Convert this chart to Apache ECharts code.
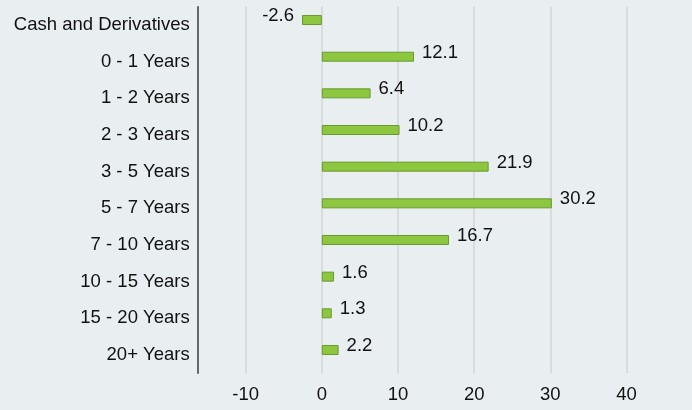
<!DOCTYPE html>
<html>
<head>
<meta charset="utf-8">
<script src="https://cdn.jsdelivr.net/npm/echarts@6/dist/echarts.min.js"></script>
<style>
html,body{margin:0;padding:0;background:#e9eef1;}
#chart{width:692px;height:410px;}
</style>
</head>
<body>
<div id="chart"></div>
<script>
const categories = ['Cash and Derivatives','0 - 1 Years','1 - 2 Years','2 - 3 Years','3 - 5 Years','5 - 7 Years','7 - 10 Years','10 - 15 Years','15 - 20 Years','20+ Years'];
const values = [-2.6, 12.1, 6.4, 10.2, 21.9, 30.2, 16.7, 1.6, 1.3, 2.2];
const tickMin = -20, tickMax = 48.6, tickStep = 10;

const FONT = 'Liberation Sans, Arial, sans-serif';
const chart = echarts.init(document.getElementById('chart'));
const barData = values.map(v => ({
  value: v,
  label: { position: v < 0 ? 'left' : 'right' }
}));
chart.setOption({
  backgroundColor: '#e9eef1',
  animation: false,
  grid: { left: 169.5, right: 0, top: 6.7, bottom: 36.7, containLabel: false },
  xAxis: {
    type: 'value',
    min: tickMin, max: tickMax, interval: tickStep,
    axisLine: { show: false },
    axisTick: { show: false },
    axisLabel: { showMinLabel: false, showMaxLabel: false, color: '#111', fontSize: 18.5, fontFamily: FONT, margin: 12 },
    splitLine: { show: true, showMinLine: false, showMaxLine: false, lineStyle: { color: '#d2d5d8', width: 1.5 } }
  },
  yAxis: {
    type: 'category',
    data: categories,
    inverse: true,
    offset: -28.2,
    axisLine: { show: true, onZero: false, lineStyle: { color: '#3a3a3a', width: 1.5 } },
    axisTick: { show: false },
    axisLabel: { color: '#111', fontSize: 18.5, fontFamily: FONT, margin: 8 }
  },
  series: [
    {
      type: 'bar',
      data: barData,
      barWidth: 10,
      barGap: '0%',
      itemStyle: { color: '#8dc63f', borderColor: '#6a9a2e', borderWidth: 1 },
      label: {
        show: true, distance: 8, offset: [0, -4],
        color: '#111', fontSize: 18.5, fontFamily: FONT,
        formatter: p => p.value.toFixed(1)
      }
    },
    {
      type: 'bar',
      data: values.map(() => null),
      barWidth: 10,
      barGap: '0%',
      silent: true
    }
  ]
});
</script>
</body>
</html>
